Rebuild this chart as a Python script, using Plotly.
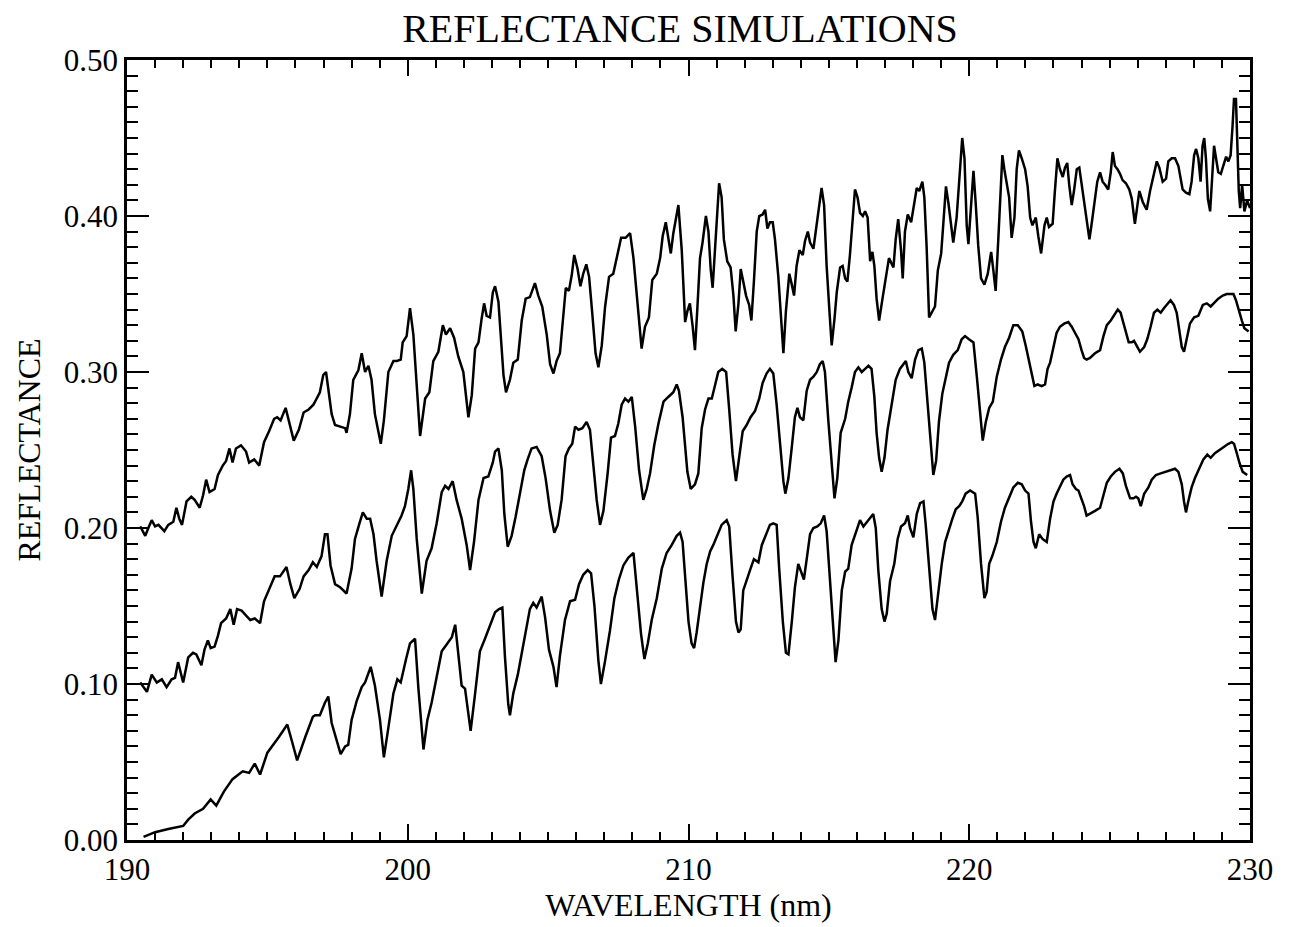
import plotly.graph_objects as go

# ---------------- data ----------------
wl_top = [190.47,190.65,190.76,190.88,191.00,191.12,191.33,191.47,191.65,191.76,191.86,191.96,192.12,192.29,192.41,192.59,192.71,192.82,192.94,193.12,193.24,193.41,193.53,193.65,193.76,193.88,194.06,194.24,194.35,194.53,194.71,194.88,195.06,195.24,195.35,195.47,195.65,195.76,195.94,196.12,196.29,196.47,
          196.64,196.87,196.99,197.09,197.17,197.29,197.41,197.59,197.77,197.82,197.94,198.06,198.24,198.36,198.48,198.60,198.71,198.83,199.04,199.15,199.31,199.49,199.61,199.75,199.82,199.96,200.08,200.20,200.32,200.44,200.62,200.77,200.91,201.09,201.25,201.36,201.51,201.65,201.80,201.98,202.16,202.28,202.40,202.52,202.63,202.72,202.81,202.93,203.03,
          203.11,203.23,203.32,203.41,203.50,203.64,203.76,203.92,204.06,204.20,204.35,204.44,204.53,204.65,204.79,204.95,205.07,205.19,205.30,205.42,205.54,205.63,205.74,205.84,205.93,206.05,206.15,206.25,206.36,206.46,206.57,206.69,206.79,206.91,207.03,207.17,207.32,207.44,207.60,207.76,207.92,208.04,208.16,208.33,208.45,208.59,208.71,208.87,208.99,209.08,209.19,209.28,209.37,209.46,209.58,209.64,
          209.76,209.82,209.88,209.96,210.05,210.15,210.23,210.31,210.41,210.50,210.62,210.71,210.79,210.86,210.94,211.03,211.09,211.18,211.26,211.38,211.50,211.60,211.68,211.78,211.86,211.95,212.05,212.16,212.24,212.33,212.43,212.52,212.64,212.73,212.81,212.90,213.00,213.08,213.20,213.30,213.38,213.47,213.59,213.68,213.76,213.85,213.95,214.07,214.15,214.25,214.33,214.45,214.57,214.66,214.74,214.83,214.92,215.02,215.10,215.20,215.28,215.40,215.49,215.58,215.66,215.75,215.85,215.93,216.02,216.11,216.21,
          216.29,216.38,216.47,216.55,216.62,216.70,216.79,216.91,217.02,217.14,217.30,217.38,217.47,217.57,217.63,217.71,217.81,217.93,218.04,218.13,218.22,218.33,218.40,218.48,218.57,218.66,218.78,218.88,219.00,219.08,219.17,219.26,219.35,219.43,219.55,219.67,219.75,219.83,219.91,219.97,220.06,220.15,220.23,220.32,220.42,220.54,220.66,220.78,220.86,220.94,221.04,221.13,221.18,221.25,221.33,221.42,221.51,221.61,221.69,221.77,221.87,221.99,222.08,222.17,222.25,222.37,222.46,222.56,222.68,222.76,222.84,
          222.97,223.05,223.14,223.23,223.33,223.41,223.49,223.56,223.65,223.73,223.83,223.92,224.00,224.09,224.18,224.28,224.36,224.48,224.56,224.66,224.75,224.84,224.95,225.04,225.11,225.19,225.28,225.37,225.46,225.58,225.70,225.79,225.85,225.90,225.99,226.06,226.18,226.32,226.44,226.56,226.68,226.77,226.89,227.01,227.09,227.21,227.33,227.45,227.53,227.60,227.72,227.84,227.92,228.01,228.08,228.16,228.24,228.31,228.37,228.43,228.50,228.58,228.65,228.72,228.79,228.87,228.96,229.05,229.15,229.23,229.31,229.38,229.43,229.50,229.55,229.60,229.65,229.72,229.80,229.90,230.00]
r_top = [0.201,0.195,0.200,0.205,0.201,0.202,0.198,0.202,0.204,0.213,0.206,0.202,0.217,0.220,0.218,0.213,0.221,0.231,0.223,0.225,0.234,0.240,0.243,0.251,0.242,0.251,0.253,0.249,0.242,0.244,0.240,0.255,0.262,0.270,0.271,0.269,0.277,0.269,0.256,0.263,0.274,0.276,
         0.279,0.287,0.298,0.300,0.290,0.273,0.266,0.265,0.264,0.261,0.273,0.295,0.301,0.312,0.300,0.304,0.295,0.273,0.254,0.269,0.300,0.307,0.307,0.308,0.319,0.323,0.341,0.324,0.293,0.259,0.283,0.287,0.307,0.313,0.330,0.324,0.328,0.322,0.310,0.300,0.271,0.285,0.315,0.319,0.334,0.344,0.336,0.335,0.351,
         0.355,0.345,0.321,0.298,0.287,0.295,0.306,0.308,0.333,0.347,0.348,0.353,0.357,0.349,0.342,0.324,0.305,0.299,0.307,0.312,0.335,0.354,0.352,0.362,0.375,0.366,0.355,0.363,0.369,0.361,0.338,0.312,0.303,0.317,0.342,0.361,0.363,0.373,0.386,0.386,0.389,0.373,0.349,0.315,0.329,0.335,0.359,0.363,0.373,0.387,0.396,0.387,0.376,0.389,0.403,0.407,
         0.378,0.349,0.332,0.339,0.344,0.329,0.314,0.339,0.373,0.383,0.400,0.390,0.366,0.354,0.378,0.409,0.421,0.412,0.385,0.371,0.367,0.349,0.326,0.344,0.366,0.358,0.349,0.343,0.333,0.358,0.390,0.400,0.401,0.404,0.392,0.396,0.396,0.385,0.361,0.334,0.312,0.339,0.363,0.356,0.349,0.368,0.378,0.375,0.384,0.390,0.383,0.379,0.395,0.407,0.418,0.407,0.368,0.339,0.317,0.334,0.351,0.367,0.368,0.360,0.358,0.375,0.397,0.417,0.412,0.402,0.400,
         0.403,0.399,0.371,0.377,0.368,0.347,0.333,0.347,0.360,0.373,0.367,0.385,0.398,0.378,0.360,0.390,0.401,0.396,0.408,0.418,0.416,0.422,0.412,0.381,0.335,0.338,0.342,0.365,0.376,0.396,0.419,0.408,0.394,0.383,0.399,0.433,0.450,0.437,0.394,0.382,0.403,0.429,0.408,0.381,0.360,0.356,0.363,0.377,0.365,0.352,0.387,0.426,0.439,0.430,0.421,0.412,0.386,0.399,0.430,0.442,0.437,0.430,0.419,0.399,0.394,0.399,0.387,0.376,0.394,0.399,0.393,
         0.395,0.416,0.437,0.430,0.425,0.431,0.434,0.420,0.407,0.416,0.430,0.431,0.420,0.411,0.399,0.385,0.395,0.411,0.422,0.428,0.422,0.420,0.417,0.428,0.441,0.432,0.430,0.427,0.423,0.421,0.417,0.411,0.403,0.395,0.407,0.416,0.409,0.404,0.416,0.426,0.435,0.431,0.422,0.424,0.435,0.437,0.437,0.432,0.424,0.417,0.415,0.414,0.422,0.439,0.443,0.437,0.422,0.445,0.450,0.437,0.411,0.403,0.424,0.445,0.437,0.428,0.427,0.432,0.438,0.435,0.439,0.458,0.475,0.475,0.447,0.416,0.405,0.420,0.403,0.410,0.405]

wl_mid = [190.47,190.71,190.88,191.06,191.24,191.41,191.59,191.71,191.82,192.00,192.18,192.35,192.47,192.65,192.76,192.88,192.98,193.12,193.24,193.35,193.53,193.68,193.80,193.92,194.08,194.24,194.39,194.55,194.74,194.88,195.06,195.26,195.45,195.68,195.82,195.96,196.15,196.29,196.47,196.62,
          196.76,196.93,197.05,197.14,197.25,197.41,197.59,197.82,198.00,198.12,198.28,198.40,198.54,198.66,198.78,198.89,199.07,199.25,199.43,199.61,199.78,199.90,200.02,200.12,200.20,200.32,200.50,200.67,200.85,201.03,201.21,201.33,201.45,201.60,201.74,201.92,202.10,202.22,202.36,202.52,202.70,202.87,203.03,
          203.11,203.23,203.35,203.44,203.56,203.70,203.84,203.99,204.15,204.27,204.41,204.59,204.77,204.91,205.07,205.22,205.34,205.48,205.62,205.74,205.86,205.96,206.08,206.22,206.37,206.49,206.61,206.73,206.85,206.97,207.12,207.24,207.38,207.50,207.62,207.74,207.86,207.98,208.10,208.24,208.39,208.51,208.63,208.78,208.93,209.11,209.28,209.46,209.58,209.66,
          209.79,209.88,209.96,210.08,210.23,210.35,210.47,210.59,210.71,210.83,210.94,211.06,211.20,211.34,211.45,211.57,211.69,211.81,211.93,212.07,212.21,212.37,212.52,212.64,212.78,212.90,213.02,213.14,213.26,213.38,213.45,213.56,213.68,213.79,213.88,213.97,214.09,214.21,214.33,214.45,214.57,214.68,214.78,214.86,214.98,215.10,215.20,215.30,215.42,215.58,215.69,215.81,215.93,216.05,216.17,
          216.29,216.41,216.52,216.62,216.70,216.79,216.88,216.98,217.09,217.24,217.38,217.53,217.65,217.74,217.83,217.95,218.07,218.19,218.31,218.40,218.52,218.64,218.72,218.82,218.92,219.04,219.16,219.28,219.43,219.59,219.73,219.85,219.99,220.15,220.27,220.38,220.48,220.59,220.71,220.84,220.98,221.13,221.27,221.42,221.57,221.73,221.89,222.01,222.13,222.23,222.32,222.44,222.58,222.70,222.79,
          222.88,223.00,223.11,223.23,223.38,223.53,223.65,223.77,223.89,224.00,224.09,224.18,224.30,224.48,224.66,224.78,224.90,225.04,225.16,225.29,225.39,225.49,225.58,225.68,225.79,225.87,225.99,226.08,226.23,226.34,226.46,226.58,226.70,226.82,226.94,227.06,227.17,227.29,227.39,227.48,227.57,227.65,227.74,227.86,228.01,228.16,228.32,228.46,228.60,228.72,228.87,229.03,229.17,229.29,229.41,229.50,229.59,229.71,229.80,229.95]
r_mid = [0.101,0.095,0.106,0.101,0.103,0.098,0.103,0.104,0.114,0.101,0.117,0.120,0.119,0.112,0.122,0.128,0.123,0.124,0.131,0.139,0.142,0.148,0.138,0.148,0.147,0.144,0.141,0.142,0.139,0.153,0.161,0.169,0.169,0.175,0.164,0.155,0.161,0.169,0.173,0.178,
         0.175,0.182,0.196,0.196,0.176,0.164,0.162,0.158,0.174,0.193,0.203,0.210,0.206,0.206,0.196,0.179,0.156,0.179,0.195,0.202,0.208,0.214,0.225,0.237,0.225,0.193,0.158,0.179,0.187,0.203,0.223,0.227,0.225,0.230,0.218,0.206,0.189,0.173,0.191,0.218,0.232,0.233,0.242,
         0.249,0.251,0.237,0.209,0.188,0.195,0.207,0.221,0.237,0.244,0.251,0.252,0.246,0.232,0.211,0.197,0.202,0.218,0.246,0.251,0.254,0.265,0.263,0.264,0.268,0.263,0.242,0.218,0.202,0.211,0.235,0.258,0.259,0.267,0.279,0.283,0.281,0.284,0.265,0.237,0.218,0.225,0.235,0.253,0.267,0.281,0.284,0.287,0.292,0.288,
         0.271,0.254,0.236,0.225,0.228,0.235,0.264,0.276,0.283,0.283,0.291,0.300,0.302,0.300,0.276,0.247,0.230,0.245,0.262,0.266,0.271,0.275,0.283,0.293,0.299,0.302,0.299,0.279,0.252,0.230,0.222,0.232,0.252,0.271,0.277,0.271,0.269,0.288,0.295,0.297,0.300,0.305,0.307,0.300,0.269,0.240,0.219,0.232,0.261,0.270,0.281,0.290,0.300,0.303,0.300,
         0.302,0.304,0.302,0.284,0.261,0.245,0.236,0.245,0.263,0.281,0.295,0.302,0.305,0.307,0.300,0.296,0.308,0.314,0.315,0.306,0.279,0.250,0.234,0.243,0.268,0.286,0.295,0.306,0.311,0.314,0.321,0.323,0.321,0.319,0.297,0.274,0.256,0.268,0.277,0.281,0.297,0.308,0.316,0.322,0.330,0.330,0.326,0.317,0.306,0.297,0.291,0.292,0.291,0.292,0.302,
         0.306,0.316,0.325,0.329,0.331,0.332,0.329,0.325,0.321,0.314,0.309,0.308,0.309,0.312,0.314,0.323,0.330,0.333,0.336,0.340,0.338,0.331,0.325,0.319,0.319,0.320,0.316,0.313,0.316,0.321,0.329,0.338,0.340,0.338,0.341,0.344,0.346,0.343,0.338,0.327,0.316,0.313,0.321,0.331,0.335,0.336,0.343,0.344,0.342,0.344,0.347,0.349,0.350,0.350,0.350,0.346,0.340,0.333,0.328,0.326]

wl_bot = [190.59,191.00,191.47,192.00,192.18,192.41,192.71,192.98,193.18,193.45,193.76,194.12,194.35,194.55,194.74,195.00,195.41,195.71,195.88,196.06,196.35,196.62,
          196.70,196.87,197.05,197.17,197.29,197.47,197.61,197.77,197.88,198.00,198.18,198.36,198.48,198.68,198.83,199.01,199.15,199.31,199.49,199.63,199.75,199.94,200.08,200.26,200.38,200.56,200.70,200.85,201.03,201.21,201.41,201.57,201.69,201.80,201.92,202.04,202.24,202.40,202.57,202.75,202.93,
          203.11,203.25,203.37,203.46,203.58,203.64,203.76,203.92,204.06,204.20,204.35,204.47,204.59,204.77,204.89,205.03,205.19,205.30,205.42,205.60,205.78,205.96,206.10,206.25,206.41,206.53,206.65,206.79,206.88,207.03,207.20,207.36,207.52,207.68,207.86,208.04,208.16,208.31,208.43,208.55,208.69,208.87,209.05,209.22,209.40,209.58,209.70,
          209.79,209.88,210.00,210.11,210.20,210.29,210.41,210.53,210.65,210.77,210.88,211.03,211.18,211.36,211.45,211.57,211.69,211.78,211.86,211.95,212.07,212.21,212.33,212.49,212.61,212.76,212.90,213.02,213.14,213.23,213.36,213.47,213.56,213.68,213.79,213.91,214.03,214.11,214.21,214.33,214.45,214.59,214.71,214.83,214.92,215.04,215.16,215.24,215.34,215.46,215.58,215.69,215.81,215.97,216.11,216.23,
          216.43,216.58,216.67,216.76,216.88,216.98,217.06,217.18,217.33,217.45,217.57,217.71,217.81,217.89,218.01,218.13,218.25,218.37,218.45,218.57,218.69,218.78,218.90,219.02,219.14,219.28,219.40,219.52,219.64,219.75,219.87,220.03,220.21,220.30,220.42,220.54,220.62,220.71,220.82,220.98,221.13,221.27,221.42,221.57,221.73,221.87,221.99,222.11,222.20,222.29,222.37,222.49,222.61,222.76,
          222.88,223.00,223.11,223.23,223.35,223.47,223.59,223.68,223.80,223.89,224.00,224.09,224.18,224.30,224.48,224.66,224.78,224.90,225.04,225.19,225.35,225.47,225.58,225.73,225.85,225.94,226.02,226.11,226.23,226.38,226.50,226.65,226.82,226.97,227.15,227.33,227.45,227.57,227.65,227.72,227.80,227.92,228.04,228.20,228.34,228.48,228.60,228.75,228.91,229.05,229.23,229.35,229.43,229.53,229.62,229.74,229.90]
r_bot = [0.002,0.005,0.007,0.009,0.013,0.017,0.020,0.026,0.022,0.031,0.039,0.044,0.043,0.049,0.042,0.056,0.066,0.074,0.063,0.051,0.066,0.079,
         0.080,0.080,0.088,0.092,0.075,0.063,0.055,0.060,0.061,0.077,0.089,0.098,0.101,0.111,0.099,0.077,0.053,0.072,0.094,0.103,0.101,0.116,0.126,0.129,0.097,0.058,0.077,0.088,0.104,0.121,0.126,0.130,0.138,0.118,0.099,0.097,0.070,0.094,0.121,0.129,0.138,
         0.146,0.148,0.149,0.118,0.087,0.080,0.094,0.106,0.120,0.132,0.148,0.152,0.149,0.156,0.143,0.122,0.111,0.098,0.118,0.141,0.153,0.154,0.164,0.170,0.173,0.171,0.150,0.115,0.100,0.115,0.134,0.155,0.167,0.176,0.181,0.184,0.162,0.132,0.116,0.126,0.141,0.155,0.174,0.184,0.189,0.195,0.197,
         0.191,0.169,0.140,0.126,0.123,0.133,0.150,0.165,0.177,0.185,0.189,0.196,0.202,0.205,0.201,0.169,0.140,0.133,0.135,0.160,0.167,0.174,0.180,0.178,0.189,0.196,0.202,0.203,0.202,0.174,0.140,0.120,0.119,0.140,0.162,0.177,0.171,0.167,0.180,0.196,0.200,0.201,0.203,0.208,0.198,0.167,0.135,0.114,0.128,0.160,0.172,0.174,0.189,0.197,0.205,0.201,
         0.206,0.209,0.200,0.173,0.148,0.140,0.145,0.166,0.177,0.193,0.201,0.203,0.208,0.200,0.194,0.209,0.216,0.217,0.202,0.173,0.148,0.141,0.161,0.177,0.191,0.200,0.206,0.212,0.214,0.217,0.222,0.224,0.222,0.207,0.177,0.155,0.159,0.177,0.182,0.191,0.204,0.213,0.220,0.226,0.229,0.228,0.224,0.222,0.204,0.191,0.187,0.196,0.193,0.191,
         0.206,0.217,0.222,0.227,0.231,0.233,0.234,0.228,0.225,0.224,0.219,0.214,0.208,0.209,0.211,0.213,0.222,0.229,0.233,0.236,0.238,0.235,0.227,0.219,0.219,0.220,0.219,0.214,0.222,0.226,0.231,0.234,0.235,0.236,0.237,0.238,0.236,0.228,0.217,0.210,0.217,0.226,0.232,0.238,0.244,0.247,0.245,0.248,0.250,0.252,0.254,0.255,0.254,0.248,0.242,0.236,0.234]

x_ticks = [190, 200, 210, 220, 230]
y_ticks = [0.0, 0.1, 0.2, 0.3, 0.4, 0.5]
title_text = "REFLECTANCE SIMULATIONS"
x_title = "WAVELENGTH (nm)"
y_title = "REFLECTANCE"

# ---------------- figure ----------------
SERIF = "Liberation Serif, Times New Roman, serif"
fig = go.Figure()
for wl, r in [(wl_top, r_top), (wl_mid, r_mid), (wl_bot, r_bot)]:
    fig.add_trace(go.Scatter(x=wl, y=r, mode="lines",
                             line=dict(color="black", width=2.5),
                             showlegend=False, hoverinfo="skip"))

axis_common = dict(showline=True, linecolor="black", linewidth=2.5, mirror="allticks",
                   ticks="inside", tickcolor="black", tickwidth=2,
                   showgrid=False, zeroline=False,
                   tickfont=dict(family=SERIF, size=31, color="black"))

fig.update_xaxes(range=[190, 230], tickmode="array", tickvals=x_ticks,
                 ticktext=[str(v) for v in x_ticks], ticklen=16,
                 minor=dict(ticks="inside", dtick=1, tick0=190, ticklen=8, tickwidth=1.6, tickcolor="black"),
                 title=dict(text=x_title, font=dict(family=SERIF, size=32, color="black"), standoff=6),
                 **axis_common)
fig.update_yaxes(range=[0, 0.5], tickmode="array", tickvals=y_ticks,
                 ticktext=[f"{v:.2f}" for v in y_ticks], ticklen=22,
                 minor=dict(ticks="inside", dtick=0.01, tick0=0, ticklen=11, tickwidth=1.6, tickcolor="black"),
                 title=dict(text=y_title, font=dict(family=SERIF, size=32, color="black"), standoff=14),
                 **axis_common)

fig.update_layout(
    width=1291, height=927,
    margin=dict(l=127, r=41, t=60, b=77),
    paper_bgcolor="white", plot_bgcolor="white",
    title=dict(text=title_text, font=dict(family=SERIF, size=40, color="black"),
               x=680 / 1291, xref="container", xanchor="center",
               y=1 - 28 / 927, yref="container", yanchor="middle"),
)

fig.write_html("out.html")
